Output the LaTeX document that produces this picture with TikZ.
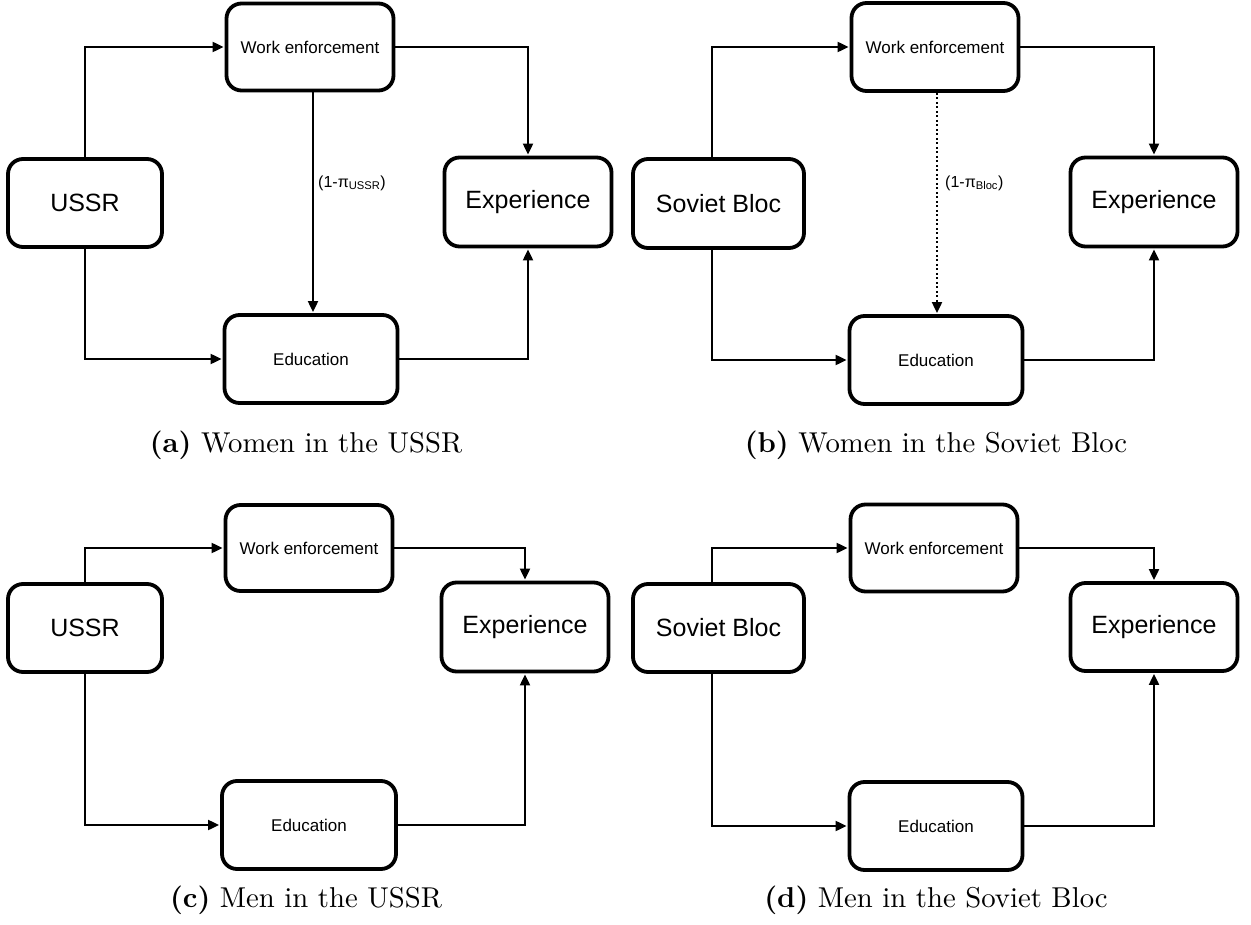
\documentclass[tikz,border=0pt]{standalone}
\usepackage{fontspec}
\usepackage{graphicx}
\newfontfamily\helv{Liberation Sans}
\usetikzlibrary{arrows.meta}
\newcommand{\captext}[2]{\scalebox{2.87}{\fontsize{10}{12}\selectfont\textbf{(#1)} #2}}
\begin{document}
\begin{tikzpicture}[x=1pt,y=-1pt,
  box/.style={draw, line width=3.8pt, rounded corners=15pt, inner sep=0pt, minimum height=88pt, align=center},
  big/.style={font=\helv\fontsize{25}{30}\selectfont},
  small/.style={font=\helv\fontsize{17}{20}\selectfont},
  lbl/.style={font=\helv\fontsize{16}{19}\selectfont, inner sep=0pt, anchor=west},
  arr/.style={line width=2pt, -{Triangle[length=11pt,width=10pt]}, shorten >=1pt},
  dotarr/.style={arr, dash pattern=on 2pt off 2.5pt},
  captxt/.style={inner sep=0pt}
]
\useasboundingbox (0,0) rectangle (1251,925);

% ---------- (a) ----------
\node[box,big,minimum width=154pt] (a-src) at (85,203) {USSR};
\node[box,small,minimum width=167pt,minimum height=87pt] (a-work) at (310,47) {Work enforcement};
\node[box,small,minimum width=173pt] (a-edu) at (311,359) {Education};
\node[box,big,minimum width=167pt,minimum height=89pt] (a-exp) at (528,202) {Experience};
\draw[arr] (a-src.north) |- (a-work.west);
\draw[arr] (a-src.south) |- (a-edu.west);
\draw[arr] (a-work.east) -| (a-exp.north);
\draw[arr] (a-edu.east) -| (a-exp.south);
\draw[arr] ([xshift=3pt]a-work.south) -- ([xshift=3pt]a-work.south |- a-edu.north);
\node[lbl] (a-lbl) at (318,183) {(1-π\textsubscript{USSR})};
\node[captxt] (a-cap) at (306,445) {\captext{a}{Women in the USSR}};

% ---------- (b) ----------
\node[box,big,minimum width=171pt,minimum height=89pt] (b-src) at (718.5,203.5) {Soviet Bloc};
\node[box,small,minimum width=167pt,minimum height=88pt] (b-work) at (935,47) {Work enforcement};
\node[box,small,minimum width=173pt] (b-edu) at (936,360) {Education};
\node[box,big,minimum width=167pt,minimum height=89pt] (b-exp) at (1154,202) {Experience};
\draw[arr] ([xshift=-7pt]b-src.north) |- (b-work.west);
\draw[arr] ([xshift=-7pt]b-src.south) |- (b-edu.west);
\draw[arr] (b-work.east) -| (b-exp.north);
\draw[arr] (b-edu.east) -| (b-exp.south);
\draw[dotarr] ([xshift=2pt]b-work.south) -- ([xshift=2pt]b-work.south |- b-edu.north);
\node[lbl] (b-lbl) at (945,183) {(1-π\textsubscript{Bloc})};
\node[captxt] (b-cap) at (936,445) {\captext{b}{Women in the Soviet Bloc}};

% ---------- (c) ----------
\node[box,big,minimum width=154pt] (c-src) at (85,628) {USSR};
\node[box,small,minimum width=167pt,minimum height=86pt] (c-work) at (309,548) {Work enforcement};
\node[box,small,minimum width=174pt] (c-edu) at (309,825) {Education};
\node[box,big,minimum width=167pt,minimum height=89pt] (c-exp) at (525,627) {Experience};
\draw[arr] (c-src.north) |- (c-work.west);
\draw[arr] (c-src.south) |- (c-edu.west);
\draw[arr] (c-work.east) -| (c-exp.north);
\draw[arr] (c-edu.east) -| (c-exp.south);
\node[captxt] (c-cap) at (306,900) {\captext{c}{Men in the USSR}};

% ---------- (d) ----------
\node[box,big,minimum width=171pt,minimum height=88pt] (d-src) at (718.5,628) {Soviet Bloc};
\node[box,small,minimum width=167pt,minimum height=87pt] (d-work) at (934,548) {Work enforcement};
\node[box,small,minimum width=173pt] (d-edu) at (936,826) {Education};
\node[box,big,minimum width=167pt,minimum height=88pt] (d-exp) at (1154,627) {Experience};
\draw[arr] ([xshift=-7pt]d-src.north) |- (d-work.west);
\draw[arr] ([xshift=-7pt]d-src.south) |- (d-edu.west);
\draw[arr] (d-work.east) -| (d-exp.north);
\draw[arr] (d-edu.east) -| (d-exp.south);
\node[captxt] (d-cap) at (936,900) {\captext{d}{Men in the Soviet Bloc}};
\end{tikzpicture}
\end{document}
